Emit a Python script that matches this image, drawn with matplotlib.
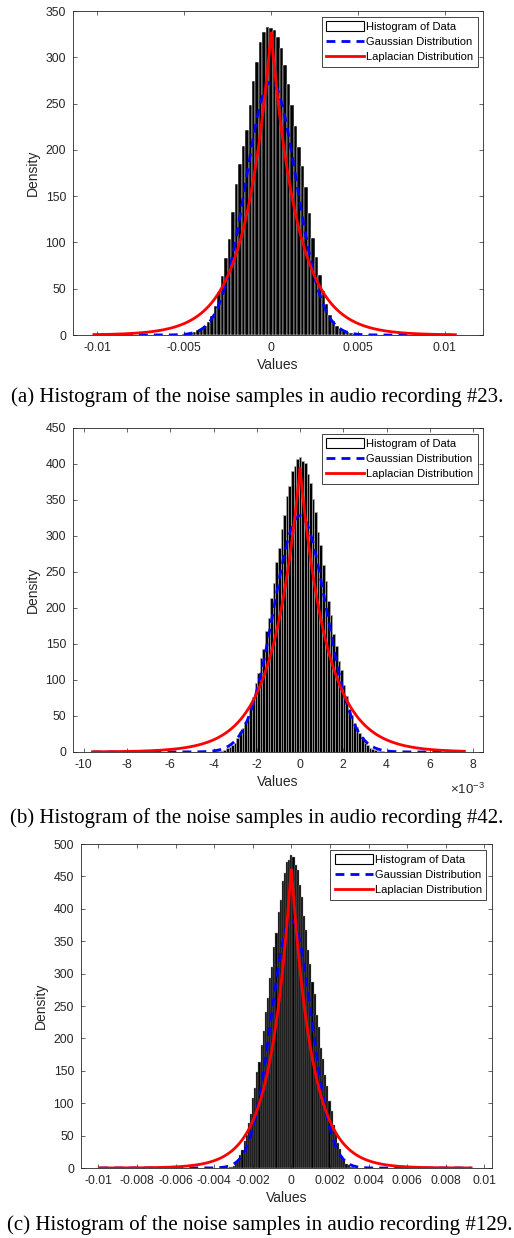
import numpy as np
import matplotlib
matplotlib.use("Agg")
from matplotlib import pyplot as plt

# ---- data ----
# (a) recording #23
hist_a = [1, 1, 2, 3, 5, 7, 10, 14, 21, 31, 46, 64, 83, 104, 133, 163, 185, 204, 222, 249, 274, 295,
          317, 327, 333, 332, 330, 322, 310, 292, 271, 248, 226, 203, 183, 160, 132, 105, 84, 65,
          47, 33, 22, 15, 10, 6, 4, 3, 2, 1, 1]
first_a, width_a = -0.0050, 0.0002
gauss_a = (0.0, 0.001458)     # mu, sigma
lap_a = (0.0, 0.001527)       # mu, b
range_a = (-0.0102, 0.0106)
xlim_a = (-0.0114, 0.0122)
xticks_a = [-0.01, -0.005, 0, 0.005, 0.01]
xlabels_a = ["-0.01", "-0.005", "0", "0.005", "0.01"]
ymax_a = 350

# (b) recording #42
hist_b = [1, 2, 2, 3, 5, 7, 10, 13, 19, 28, 33, 42, 49, 62, 76, 96, 110, 131, 143, 168, 186, 214,
          234, 264, 283, 310, 329, 355, 369, 390, 397, 407,
          410,
          404, 401, 386, 373, 351, 333, 306, 287, 260, 238, 210, 190, 164, 147, 127, 114, 93, 78,
          60, 51, 40, 35, 26, 21, 13, 10, 6, 4, 3, 2, 1, 1]
first_b, width_b = -0.00384, 0.00012
gauss_b = (0.0, 0.001216)
lap_b = (0.0, 0.001269)
range_b = (-0.0096, 0.0076)
xlim_b = (-0.0105, 0.00847)
xticks_b = [-0.010, -0.008, -0.006, -0.004, -0.002, 0, 0.002, 0.004, 0.006, 0.008]
xlabels_b = ["-10", "-8", "-6", "-4", "-2", "0", "2", "4", "6", "8"]
ymax_b = 450

# (c) recording #129
hist_c = [1, 2, 3, 8, 11, 20, 28, 41, 51, 70, 84, 108, 123, 148, 164, 190, 211, 241, 262, 293,
          310, 341, 362, 395, 413, 443, 455, 472, 476,
          483,
          480, 468, 460, 437, 419, 389, 368, 336, 315, 287, 268, 236, 217, 185, 168, 143, 127,
          104, 88, 66, 53, 38, 30, 18, 13, 6, 4, 2, 1]
first_c, width_c = -0.00319, 0.00011
gauss_c = (0.0, 0.001042)
lap_c = (0.0, 0.001075)
range_c = (-0.00995, 0.00932)
xlim_c = (-0.0109, 0.0104)
xticks_c = [-0.01, -0.008, -0.006, -0.004, -0.002, 0, 0.002, 0.004, 0.006, 0.008, 0.01]
xlabels_c = ["-0.01", "-0.008", "-0.006", "-0.004", "-0.002", "0", "0.002", "0.004", "0.006",
             "0.008", "0.01"]
ymax_c = 500

captions = ["(a) Histogram of the noise samples in audio recording #23.",
            "(b) Histogram of the noise samples in audio recording #42.",
            "(c) Histogram of the noise samples in audio recording #129."]

plt.rcParams['font.family'] = ['Liberation Sans', 'DejaVu Sans']
grey = '#262626'

fig = plt.figure(figsize=(5.14, 12.38), dpi=100)

def panel(rect, hist, first, width, gauss, lap, rng, xlim, xticks, xlabels, ymax, gap_color, gap_lw):
	ax = fig.add_axes(rect)
	centers = first + width * np.arange(len(hist))
	# dense white-faced bars render almost black at this size: draw dark bars with light seams
	ax.bar(centers, hist, width=width, facecolor='black', edgecolor=gap_color, linewidth=gap_lw)
	x = np.linspace(rng[0], rng[1], 800)
	g = np.exp(-0.5 * ((x - gauss[0]) / gauss[1]) ** 2) / (gauss[1] * np.sqrt(2 * np.pi))
	l = np.exp(-np.abs(x - lap[0]) / lap[1]) / (2 * lap[1])
	gl, = ax.plot(x, g, color='#0000ff', linestyle=(0, (3.2, 2.2)), linewidth=2.0)
	ll, = ax.plot(x, l, color='#ff0000', linewidth=2.0)
	ax.set_xlim(xlim)
	ax.set_ylim(0, ymax)
	ax.set_xticks(xticks)
	ax.set_xticklabels(xlabels)
	ax.set_yticks(np.arange(0, ymax + 1, 50))
	ax.tick_params(direction='in', length=3, width=0.5, colors=grey, labelsize=8.8,
		top=True, right=True, pad=5)
	for s in ax.spines.values():
		s.set_color(grey)
		s.set_linewidth(0.6)
	ax.set_xlabel("Values", fontsize=10, color=grey, labelpad=3)
	ax.set_ylabel("Density", fontsize=10, color=grey, labelpad=4)
	hist_handle = plt.Rectangle((0, 0), 1, 1, facecolor='white', edgecolor='black', linewidth=0.8)
	leg = ax.legend([hist_handle, gl, ll],
		["Histogram of Data", "Gaussian Distribution", "Laplacian Distribution"],
		loc='upper right', fontsize=8.0, fancybox=False, edgecolor=grey, framealpha=1,
		handlelength=3.4, handleheight=1.0, handletextpad=0.2, borderpad=0.4,
		labelspacing=0.4, borderaxespad=0.5)
	leg.get_frame().set_linewidth(0.6)
	return ax

panel([0.142, 0.7294, 0.798, 0.2617], hist_a, first_a, width_a, gauss_a, lap_a, range_a,
	xlim_a, xticks_a, xlabels_a, ymax_a, 'white', 0.35)
panel([0.142, 0.3926, 0.798, 0.2617], hist_b, first_b, width_b, gauss_b, lap_b, range_b,
	xlim_b, xticks_b, xlabels_b, ymax_b, '#b0b0b0', 0.45)
panel([0.1576, 0.05654, 0.7996, 0.2617], hist_c, first_c, width_c, gauss_c, lap_c, range_c,
	xlim_c, xticks_c, xlabels_c, ymax_c, '#9a9a9a', 0.3)

fig.text(467 / 514, 1 - 789 / 1238, r'$\mathregular{\times10^{-3}}$', fontsize=9.5, color=grey,
	ha='center', va='center')

fig.text(0.5, 1 - 397 / 1238, captions[0], family='Liberation Serif', fontsize=15,
	ha='center', va='center')
fig.text(0.5, 1 - 818 / 1238, captions[1], family='Liberation Serif', fontsize=15,
	ha='center', va='center')
fig.text(7 / 514, 1 - 1225 / 1238, captions[2], family='Liberation Serif', fontsize=15.1,
	ha='left', va='center')

fig.savefig("out.png", dpi=100)
